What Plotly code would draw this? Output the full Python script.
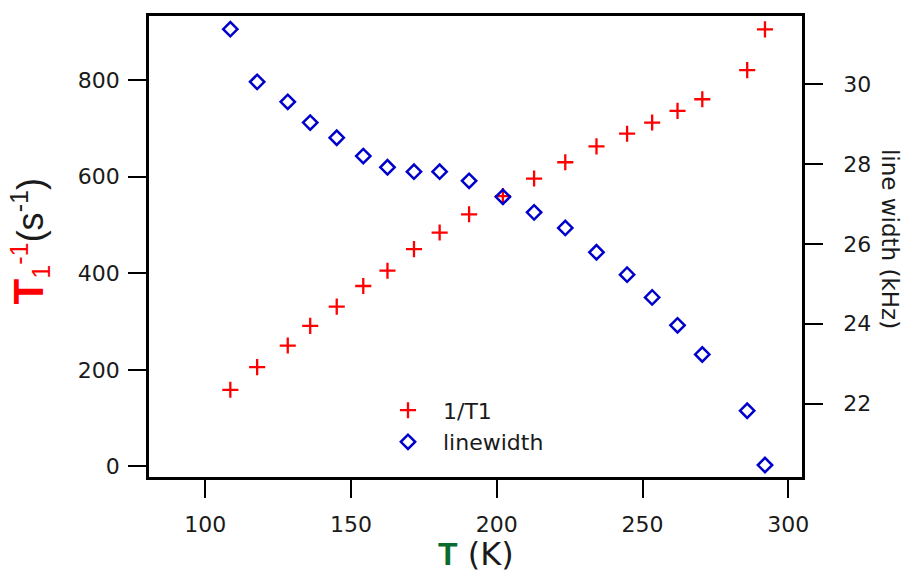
import plotly.graph_objects as go

# Temperature (K)
temperature = [108.6, 117.8, 128.3, 136.0, 145.1, 154.2, 162.5, 171.6, 180.4, 190.5,
               202.1, 212.8, 223.5, 234.2, 244.7, 253.3, 262.0, 270.5, 285.9, 292.0]
# 1/T1 (s^-1)
inv_t1 = [158.6, 205.6, 250.3, 291.0, 331.0, 373.7, 405.4, 450.0, 484.4, 522.2,
          559.9, 596.3, 630.0, 662.9, 689.2, 712.3, 736.5, 760.5, 820.9, 905.3]
# linewidth (kHz)
linewidth = [31.38, 30.06, 29.56, 29.04, 28.66, 28.20, 27.92, 27.81, 27.81, 27.58,
             27.18, 26.79, 26.40, 25.79, 25.23, 24.66, 23.96, 23.23, 21.82, 20.46]

x_ticks = [100, 150, 200, 250, 300]
y_ticks = [0, 200, 400, 600, 800]
y2_ticks = [22, 24, 26, 28, 30]

RED = "#ff0000"
BLUE = "#0000cc"
GREEN = "#0b6b2e"
FONT = "DejaVu Sans"
FONT_T = "Liberation Sans"
TXT = "#1a1a1a"

fig = go.Figure()
fig.add_trace(go.Scatter(
    x=temperature, y=inv_t1, mode="markers", name="1/T1",
    marker=dict(symbol="cross-thin-open", size=11.5, color=RED,
                line=dict(color=RED, width=2.3)),
    yaxis="y",
))
fig.add_trace(go.Scatter(
    x=temperature, y=linewidth, mode="markers", name="linewidth",
    marker=dict(symbol="diamond-open", size=11, color=BLUE,
                line=dict(color=BLUE, width=2.5)),
    yaxis="y2",
))

axis_common = dict(
    showgrid=False, zeroline=False, showline=True, linecolor="black", linewidth=2.5,
    ticks="outside", ticklen=18, tickwidth=2, tickcolor="black",
    tickfont=dict(family=FONT, size=22, color=TXT),
)

fig.update_layout(
    width=908, height=578,
    margin=dict(l=149, r=106, t=16, b=101),
    paper_bgcolor="white", plot_bgcolor="white",
    font=dict(family=FONT, color=TXT),
    showlegend=True,
    legend=dict(x=0.343, y=0.19, xanchor="left", yanchor="top",
                bgcolor="rgba(0,0,0,0)", borderwidth=0,
                font=dict(family=FONT, size=22, color=TXT),
                itemwidth=60, tracegroupgap=0),
    xaxis=dict(range=[80.7, 304.7], tickvals=x_ticks, mirror=True,
               ticklabelstandoff=8, **axis_common),
    yaxis=dict(range=[-22, 933], tickvals=y_ticks, ticklabelstandoff=4, **axis_common),
    yaxis2=dict(range=[20.16, 31.71], tickvals=y2_ticks, overlaying="y", side="right",
                ticklabelstandoff=16, **axis_common),
    annotations=[
        dict(text=("<span style='color:%s;font-size:42px;font-family:%s'><b>T</b></span>"
                   "<span style='color:%s'><sub>1</sub><sup>-1</sup></span>"
                   "(s<sup>-1</sup>)") % (RED, FONT_T, RED),
             xref="paper", yref="paper", x=-0.1815, y=0.512,
             xanchor="center", yanchor="middle", textangle=-90, showarrow=False,
             font=dict(family=FONT_T, size=36, color=TXT)),
        dict(text=("<span style='color:%s;font-family:%s'><b>T</b></span> (K)")
             % (GREEN, FONT_T),
             xref="paper", yref="paper", x=0.5, y=-0.168,
             xanchor="center", yanchor="middle", showarrow=False,
             font=dict(family=FONT, size=32, color=TXT)),
        dict(text="line width (kHz)",
             xref="paper", yref="paper", x=1.135, y=0.516,
             xanchor="center", yanchor="middle", textangle=90, showarrow=False,
             font=dict(family=FONT, size=23, color=TXT)),
    ],
)

fig.write_html("out.html",
               config={"displayModeBar": False},
               post_script="document.body.style.margin='0';document.body.style.overflow='hidden';")
